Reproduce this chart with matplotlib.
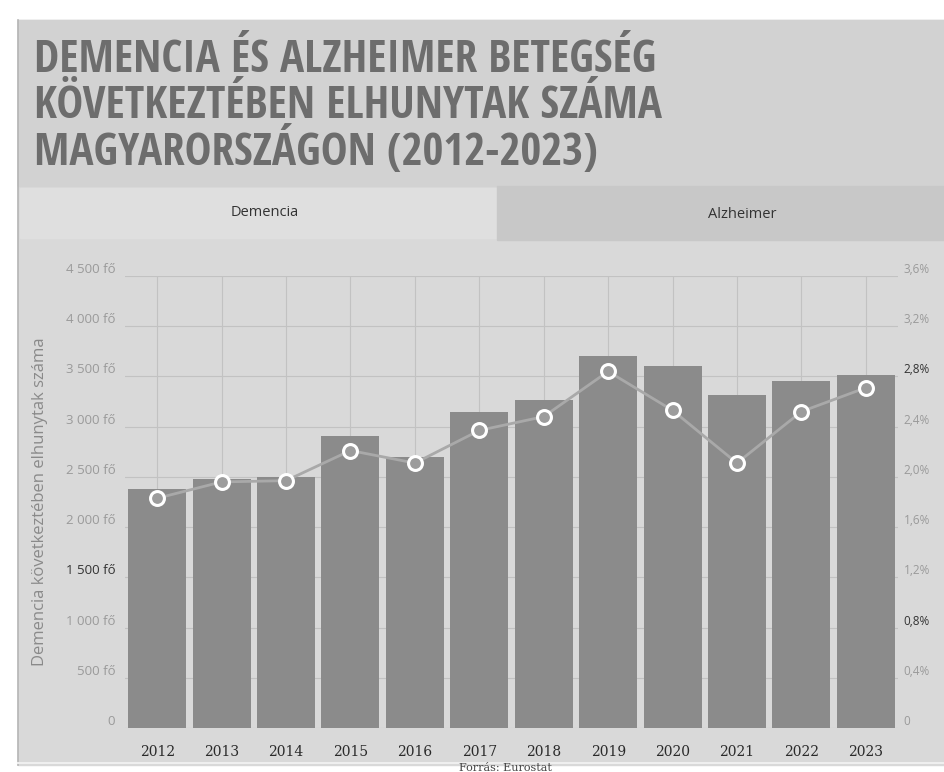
#!/usr/bin/env python3
"""
Demencia / Alzheimer halálozási diagram újrarajzolása
"""
import matplotlib
matplotlib.use("Agg")
import matplotlib.pyplot as plt
from matplotlib.patches import Rectangle

# === adatok ===
years = ["2012", "2013", "2014", "2015", "2016", "2017",
         "2018", "2019", "2020", "2021", "2022", "2023"]
deaths = [2380, 2480, 2500, 2910, 2700, 3150, 3270, 3700, 3600, 3320, 3450, 3510]
share_pct = [1.83, 1.96, 1.97, 2.21, 2.11, 2.37, 2.48, 2.84, 2.53, 2.11, 2.52, 2.71]

left_ticks = [0, 500, 1000, 1500, 2000, 2500, 3000, 3500, 4000, 4500]
left_labels = ["0", "500 fő", "1 000 fő", "1 500 fő", "2 000 fő", "2 500 fő",
               "3 000 fő", "3 500 fő", "4 000 fő", "4 500 fő"]
right_ticks = [0, 0.4, 0.8, 1.2, 1.6, 2.0, 2.4, 2.8, 3.2, 3.6]
right_labels = ["0", "0,4%", "0,8%", "1,2%", "1,6%", "2,0%",
                "2,4%", "2,8%", "3,2%", "3,6%"]

title_lines = ["DEMENCIA ÉS ALZHEIMER BETEGSÉG",
               "KÖVETKEZTÉBEN ELHUNYTAK SZÁMA",
               "MAGYARORSZÁGON (2012-2023)"]
tab_labels = ["Demencia", "Alzheimer"]
y_title = "Demencia következtében elhunytak száma"
source = "Forrás: Eurostat"

W, H = 945, 772
BAR = "#8b8b8b"
LINE = "#a9a9a9"
GRID = "#c2c2c2"
TICK = "#9a9a9a"
TITLE_FONT = ["Liberation Sans Narrow", "Open Sans Condensed", "Roboto Condensed",
              "Roboto", "DejaVu Sans"]


def fx(px):
    return px / W


def fy(py):
    return 1 - py / H


fig = plt.figure(figsize=(W / 100, H / 100), dpi=100, facecolor="white")

# háttér, fülek
fig.patches.append(Rectangle((fx(18), fy(765)), fx(945 - 18), (765 - 20) / H,
                             transform=fig.transFigure, color="#d9d9d9", zorder=-3))
fig.patches.append(Rectangle((fx(18), fy(186)), fx(945 - 18), (186 - 20) / H,
                             transform=fig.transFigure, color="#d2d2d2", zorder=-2))
fig.patches.append(Rectangle((fx(20), fy(238)), fx(497 - 20), 50 / H,
                             transform=fig.transFigure, color="#dfdfdf", zorder=-1))
fig.patches.append(Rectangle((fx(497), fy(240)), fx(945 - 497), 54 / H,
                             transform=fig.transFigure, color="#c8c8c8", zorder=-1))
fig.lines.append(plt.Line2D([fx(18), fx(18)], [fy(20), fy(765)],
                            transform=fig.transFigure, color="#b5b5b5", lw=1.2, zorder=-1))
fig.lines.append(plt.Line2D([fx(18), fx(945)], [fy(763), fy(763)],
                            transform=fig.transFigure, color="#efefef", lw=1.5, zorder=-1))

# cím
for i, line in enumerate(title_lines):
    fig.text(fx(34), fy(72 + i * 46.5), line, fontsize=32.5, fontweight="bold",
             family=TITLE_FONT, color="#6d6d6d", va="baseline", ha="left")

fig.text(fx(265), fy(213), tab_labels[0], fontsize=10.5, family="Open Sans",
         color="#333333", ha="center", va="center")
fig.text(fx(742), fy(214), tab_labels[1], fontsize=10.5, family="Open Sans",
         color="#333333", ha="center", va="center")

# === oszlopdiagram ===
ax = fig.add_axes([fx(125), fy(728), fx(898 - 125), (728 - 276) / H])
ax.set_zorder(5)
ax.set_facecolor("none")
x = list(range(len(years)))
ax.bar(x, deaths, width=0.9, color=BAR, zorder=2)
ax.set_xlim(-0.5, len(years) - 0.5)
ax.set_ylim(0, 4500)
ax.set_yticks(left_ticks)
ax.set_yticklabels(left_labels)
ax.set_xticks(x)
ax.set_xticklabels(years, family="DejaVu Serif", fontsize=10, color="#2a2a2a")
ax.tick_params(axis="x", length=0, pad=12)
ax.tick_params(axis="y", length=0, pad=7, labelsize=9.5, labelcolor=TICK)
for t in ax.get_yticklabels():
    t.set_va("bottom")
    t.set_family("Open Sans")
ax.get_yticklabels()[3].set_color("#333333")
ax.grid(True, color=GRID, lw=0.8, zorder=0)
ax.set_axisbelow(True)
for s in ax.spines.values():
    s.set_visible(False)
ax.set_ylabel(y_title, fontsize=12, color="#8a8a8a", family="Open Sans")
ax.yaxis.set_label_coords(-0.10, 0.5)

# === arány vonal ===
ax2 = ax.twinx()
ax2.set_zorder(6)
ax2.set_facecolor("none")
ax2.plot(x, share_pct, color=LINE, lw=2, marker="o", markersize=10,
         markerfacecolor="#9c9c9c", markeredgecolor="white", markeredgewidth=2.2,
         zorder=3)
ax2.set_ylim(0, 3.6)
ax2.set_yticks(right_ticks)
ax2.set_yticklabels(right_labels)
ax2.tick_params(axis="y", length=0, pad=4, labelsize=8.5, labelcolor=TICK)
for t in ax2.get_yticklabels():
    t.set_va("bottom")
    t.set_family("Open Sans")
ax2.get_yticklabels()[2].set_color("#333333")
ax2.get_yticklabels()[7].set_color("#333333")
for s in ax2.spines.values():
    s.set_visible(False)

fig.text(fx(505), fy(768), source, fontsize=8, family="DejaVu Serif",
         color="#444444", ha="center", va="center")

plt.savefig("out.png", dpi=100, facecolor=fig.get_facecolor())
plt.close()
